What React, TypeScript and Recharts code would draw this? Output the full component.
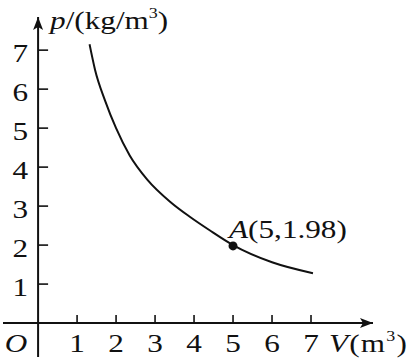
import { LineChart, Line, XAxis, YAxis, ReferenceLine, ReferenceDot } from 'recharts';

// values
const volume = [1.32, 1.46, 1.72, 2.0, 2.35, 2.8, 3.4, 3.9, 4.4, 5, 6, 7.05];
const density = [7.15, 6.5, 5.7, 5.0, 4.3, 3.68, 3.1, 2.72, 2.38, 2.0, 1.56, 1.28];
const xTicks = [1, 2, 3, 4, 5, 6, 7];
const yTicks = [1, 2, 3, 4, 5, 6, 7];
const pointA = { V: 5, p: 1.98 };
const axisEnd = { V: 8.59, p: 7.85 };

const data = volume.map((V, i) => ({ V, p: density[i] }));

const txt = {
    fontFamily: '"Liberation Serif", "Times New Roman", serif',
    fontSize: 26,
    fill: '#111',
};

// the scanned lettering is wider than Times, so stretch it a little
function Label({ x, y, anchor = 'start', italic = false, spacing = 0, children }: any) {
    return (
        <g transform={`translate(${x},${y}) scale(1.2,1)`}>
            <text
                x={0}
                y={0}
                textAnchor={anchor}
                style={{ ...txt, fontStyle: italic ? 'italic' : 'normal', letterSpacing: spacing }}
            >
                {children}
            </text>
        </g>
    );
}

export default function App() {
    return (
        <div style={{ position: 'absolute', left: 0, top: 0, background: '#fff' }}>
            <LineChart
                width={409}
                height={364}
                data={data}
                margin={{ top: 17, right: 36, bottom: 7, left: 3 }}
            >
                <XAxis type="number" dataKey="V" domain={[-0.9, axisEnd.V]} hide />
                <YAxis type="number" dataKey="p" domain={[-0.87, axisEnd.p]} hide />

                <ReferenceLine y={0} stroke="#111" strokeWidth={2} ifOverflow="visible" />
                <ReferenceLine x={0} stroke="#111" strokeWidth={2} ifOverflow="visible" />

                {xTicks.map((t) => (
                    <ReferenceDot
                        key={`x${t}`}
                        x={t}
                        y={0}
                        ifOverflow="visible"
                        shape={(props: any) => (
                            <g>
                                <line x1={props.cx} y1={props.cy} x2={props.cx} y2={props.cy - 8} stroke="#111" strokeWidth={1.6} />
                                <Label x={props.cx} y={props.cy + 29} anchor="middle">{t}</Label>
                            </g>
                        )}
                    />
                ))}

                {yTicks.map((t) => (
                    <ReferenceDot
                        key={`y${t}`}
                        x={0}
                        y={t}
                        ifOverflow="visible"
                        shape={(props: any) => (
                            <g>
                                <line x1={props.cx} y1={props.cy} x2={props.cx + 10} y2={props.cy} stroke="#111" strokeWidth={1.6} />
                                <Label x={props.cx - 10} y={props.cy + 12} anchor="end">{t}</Label>
                            </g>
                        )}
                    />
                ))}

                {/* origin */}
                <ReferenceDot
                    x={0}
                    y={0}
                    ifOverflow="visible"
                    shape={(props: any) => (
                        <Label x={props.cx - 22} y={props.cy + 29} anchor="middle" italic>O</Label>
                    )}
                />

                {/* x axis arrow + name */}
                <ReferenceDot
                    x={axisEnd.V}
                    y={0}
                    ifOverflow="visible"
                    shape={(props: any) => (
                        <g>
                            <path d={`M${props.cx},${props.cy} L${props.cx - 13},${props.cy - 5} L${props.cx - 10},${props.cy} L${props.cx - 13},${props.cy + 5} Z`} fill="#111" />
                            <Label x={props.cx - 44} y={props.cy + 29} spacing={1}>
                                <tspan fontStyle="italic">V</tspan>
                                <tspan>(m</tspan>
                                <tspan fontSize={15} dy={-11}>3</tspan>
                                <tspan dy={11}>)</tspan>
                            </Label>
                        </g>
                    )}
                />

                {/* y axis arrow + name */}
                <ReferenceDot
                    x={0}
                    y={axisEnd.p}
                    ifOverflow="visible"
                    shape={(props: any) => (
                        <g>
                            <path d={`M${props.cx},${props.cy} L${props.cx - 5},${props.cy + 13} L${props.cx},${props.cy + 10} L${props.cx + 5},${props.cy + 13} Z`} fill="#111" />
                            <Label x={props.cx + 12} y={props.cy + 12}>
                                <tspan fontStyle="italic">p</tspan>
                                <tspan>/(kg/m</tspan>
                                <tspan fontSize={15} dy={-11}>3</tspan>
                                <tspan dy={11}>)</tspan>
                            </Label>
                        </g>
                    )}
                />

                <Line
                    type="monotone"
                    dataKey="p"
                    stroke="#111"
                    strokeWidth={2}
                    dot={false}
                    isAnimationActive={false}
                />

                <ReferenceDot
                    x={pointA.V}
                    y={pointA.p}
                    ifOverflow="visible"
                    shape={(props: any) => (
                        <g>
                            <circle cx={props.cx} cy={props.cy} r={4.5} fill="#111" />
                            <Label x={props.cx - 4} y={props.cy - 8}>
                                <tspan fontStyle="italic">A</tspan>
                                <tspan>({pointA.V},{pointA.p})</tspan>
                            </Label>
                        </g>
                    )}
                />
            </LineChart>
        </div>
    );
}
